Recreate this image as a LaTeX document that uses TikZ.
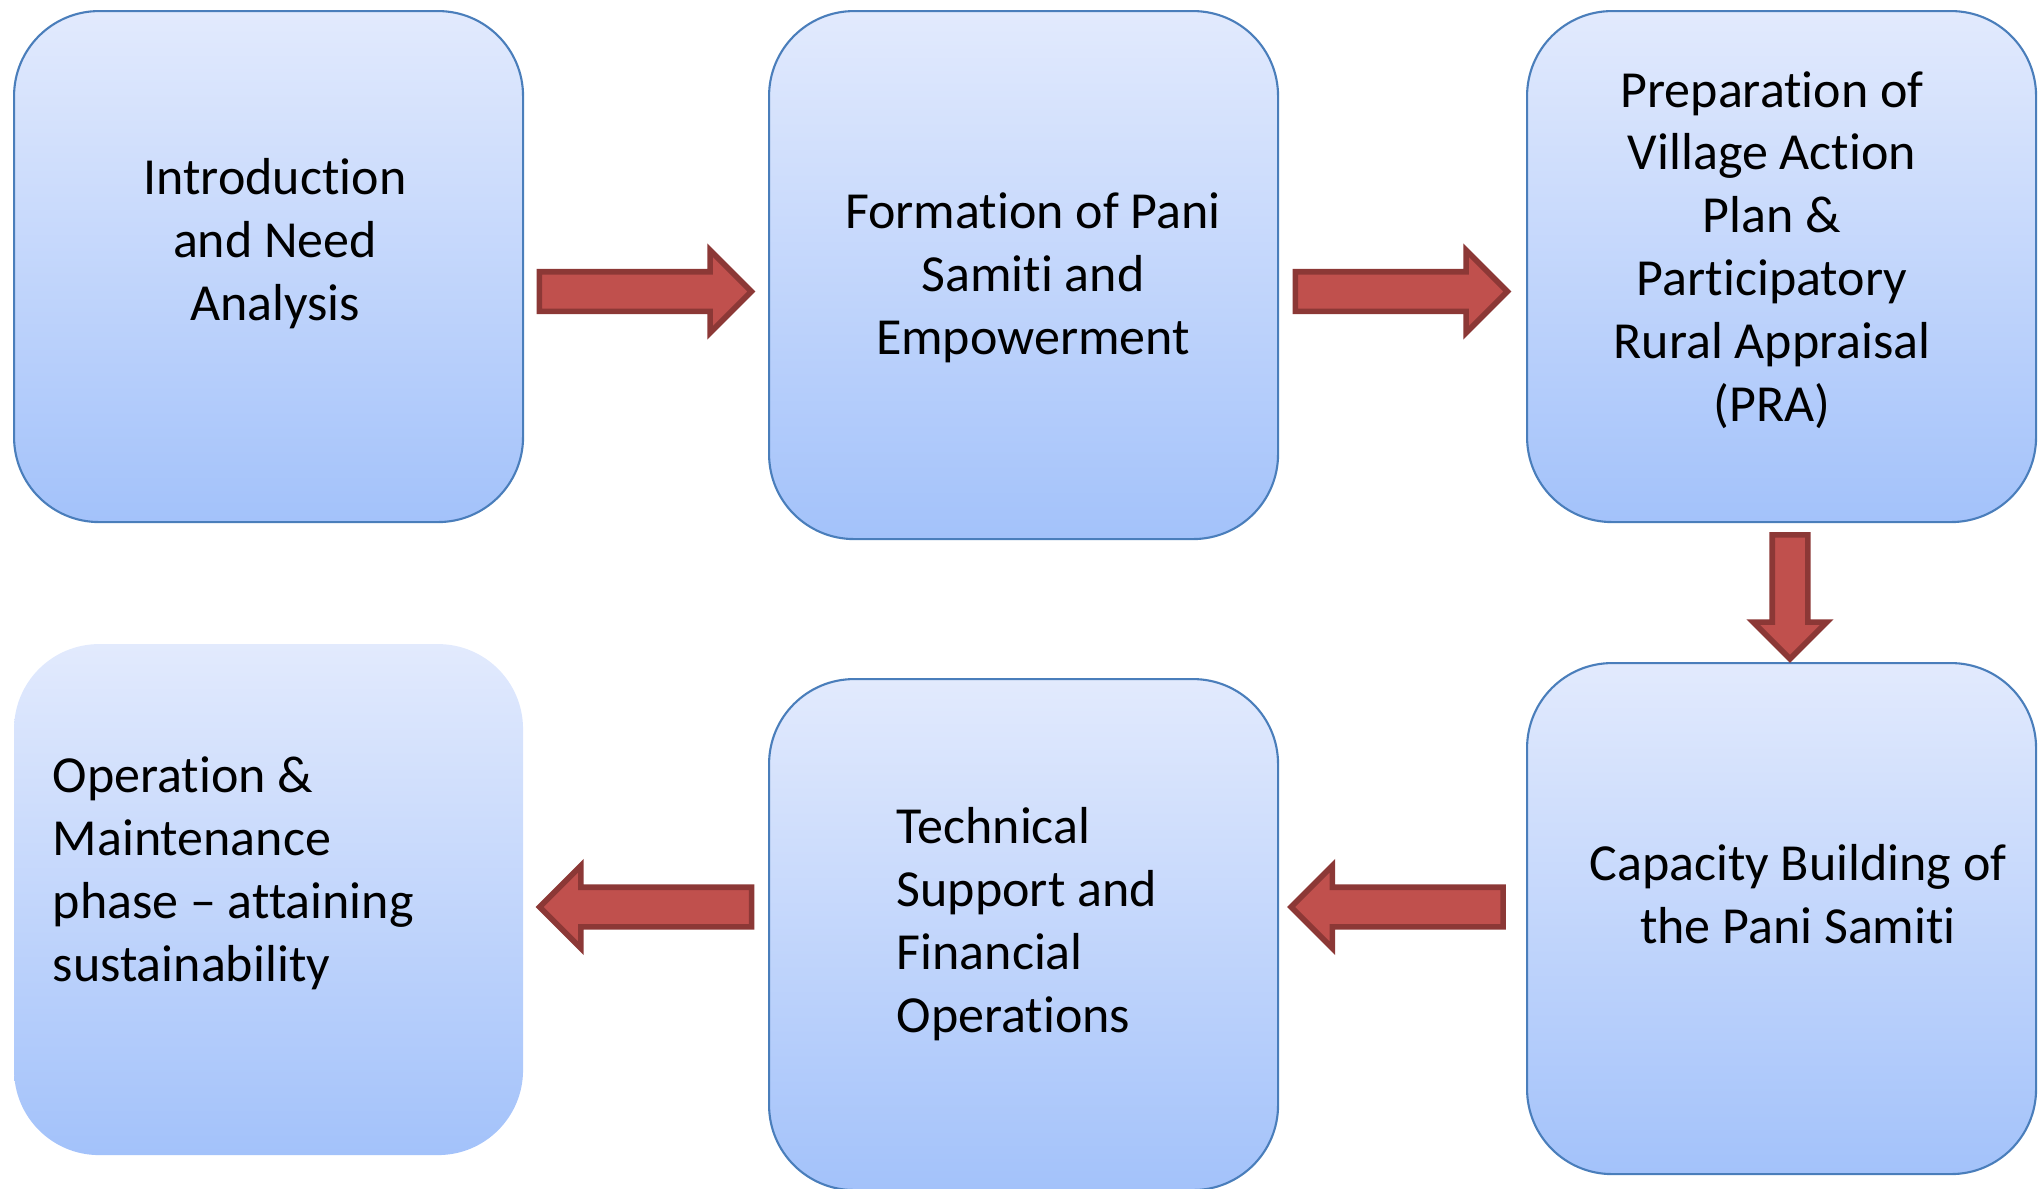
\documentclass[tikz,border=0pt]{standalone}
\usepackage{fontspec}
\setmainfont{Carlito}[Ligatures=NoCommon, RawFeature={-calt}]
\usetikzlibrary{shapes.arrows}
\definecolor{boxline}{RGB}{74,126,187}
\definecolor{boxtop}{RGB}{226,234,253}
\definecolor{boxbot}{RGB}{163,194,250}
\definecolor{arrfill}{RGB}{192,80,77}
\definecolor{arrline}{RGB}{140,56,54}
\tikzset{
  stepbox/.style={rectangle, rounded corners=0.85cm, top color=boxtop, bottom color=boxbot,
    draw=boxline, line width=0.6pt, minimum width=5.09cm, minimum height=5.11cm, inner sep=0, anchor=north west},
  plainbox/.style={stepbox, draw=none},
  boxtext/.style={font=\fontsize{14.8}{17.9}\selectfont, inner sep=0, align=center},
  lefttext/.style={font=\fontsize{14.8}{17.9}\selectfont, inner sep=0, align=left, anchor=west},
  fatarrow/.style={single arrow, fill=arrfill, draw=arrline, line width=1.6pt,
    minimum height=2.12cm, minimum width=0pt, inner sep=0, text height=0.17cm, text depth=0.17cm,
    text width=0pt, single arrow head extend=0.215cm},
  fatarrowdown/.style={fatarrow, shape border rotate=270, text height=0pt, text depth=0pt,
    text width=0.30cm, single arrow head extend=0.19cm, minimum height=1.24cm}
}
\begin{document}
\begin{tikzpicture}
\useasboundingbox (0,0) rectangle (20.42,-11.88);
% boxes
\node[stepbox] (b1) at (0.13,-0.10) {};
\node[stepbox, minimum height=5.28cm] (b2) at (7.68,-0.10) {};
\node[stepbox] (b3) at (15.26,-0.10) {};
\node[stepbox] (b4) at (15.26,-6.62) {};
\node[stepbox] (b5) at (7.68,-6.78) {};
\node[plainbox] (b6) at (0.13,-6.43) {};
% texts
\node[boxtext] (t1) at (2.75,-2.44) {Introduction\\and Need\\Analysis};
\node[boxtext] (t2) at (10.33,-2.78) {Formation of Pani\\Samiti and\\Empowerment};
\node[boxtext] (t3) at (17.72,-2.50) {Preparation of\\Village Action\\Plan \&\\Participatory\\Rural Appraisal\\(PRA)};
\node[boxtext] (t4) at (17.98,-8.94) {Capacity Building of\\the Pani Samiti};
\node[lefttext] (t5) at (8.96,-9.24) {Technical\\Support and\\Financial\\Operations};
\node[lefttext] (t6) at (0.52,-8.73) {Operation \&\\Maintenance\\phase -- attaining\\sustainability};
% arrows
\node[fatarrow] (a1) at (6.355,-2.915) {};
\node[fatarrow] (a2) at (13.915,-2.915) {};
\node[fatarrowdown] (a3) at (17.90,-5.88) {};
\node[fatarrow, shape border rotate=180] (a4) at (14.07,-9.07) {};
\node[fatarrow, shape border rotate=180] (a5) at (6.555,-9.07) {};
\end{tikzpicture}
\end{document}
